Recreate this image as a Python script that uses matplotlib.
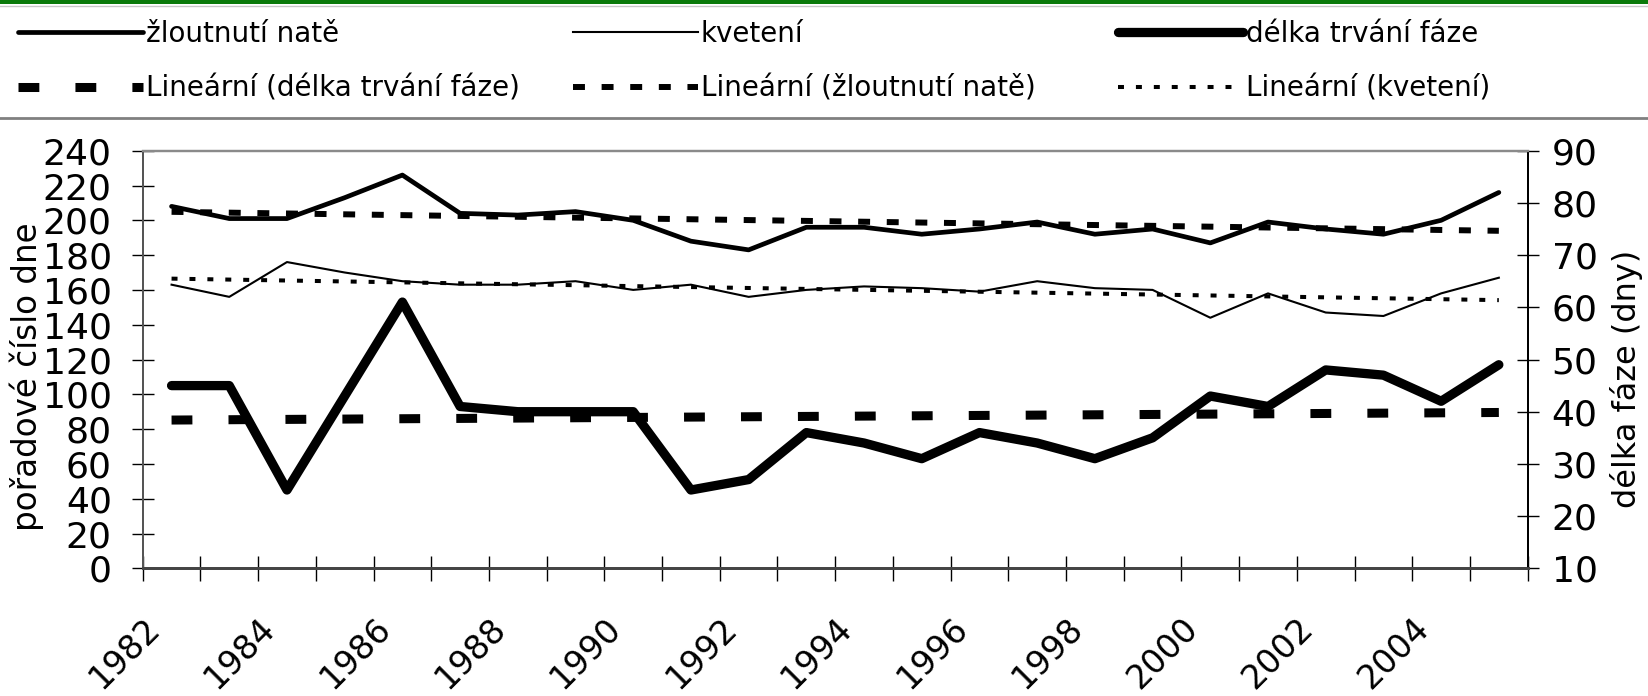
import numpy as np
import matplotlib
matplotlib.use("Agg")
import matplotlib.pyplot as plt
import matplotlib.transforms as mtransforms
from matplotlib.lines import Line2D
from matplotlib.patches import Rectangle

plt.rcParams["font.family"] = ["DejaVu Sans"]
plt.rcParams["lines.scale_dashes"] = False

years = list(range(1982, 2006))
zloutnuti = [208, 201, 201, 213, 226, 204, 203, 205, 200, 188, 183, 196,
             196, 192, 195, 199, 192, 195, 187, 199, 195, 192, 200, 216]
kveteni = [163, 156, 176, 170, 165, 163, 163, 165, 160, 163, 156, 160,
           162, 161, 159, 165, 161, 160, 144, 158, 147, 145, 158, 167]
delka = [45, 45, 25, 43, 61, 41, 40, 40, 40, 25, 27, 36,
         34, 31, 36, 34, 31, 35, 43, 41, 48, 47, 42, 49]

left_ticks = list(range(0, 241, 20))
right_ticks = list(range(10, 91, 10))

W, H = 1649, 696
fig = plt.figure(figsize=(W / 100, H / 100), dpi=100)
ax = fig.add_axes([142.7 / W, 1 - 568.3 / H, 1385 / W, 417.6 / H])
ax2 = ax.twinx()

x = np.arange(len(years))


def trend(vals):
    k, q = np.polyfit(x, vals, 1)
    return k * x + q


l_z, = ax.plot(x, zloutnuti, color="black", lw=3.4, solid_joinstyle="round",
               solid_capstyle="round", label="žloutnutí natě", zorder=3)
l_k, = ax.plot(x, kveteni, color="black", lw=1.5, solid_joinstyle="round",
               label="kvetení", zorder=3)
l_d, = ax2.plot(x, delka, color="black", lw=6.7, solid_joinstyle="round",
                solid_capstyle="round", label="délka trvání fáze", zorder=3)

t_d, = ax2.plot(x, trend(delka), color="black", lw=6.5, dashes=(15, 26),
                dash_capstyle="butt", label="Lineární (délka trvání fáze)")
t_z, = ax.plot(x, trend(zloutnuti), color="black", lw=4.3, dashes=(8.6, 12),
               dash_capstyle="butt", label="Lineární (žloutnutí natě)")
t_k, = ax.plot(x, trend(kveteni), color="black", lw=2.9, dashes=(4.3, 8.6),
               dash_capstyle="butt", label="Lineární (kvetení)")

ax.set_xlim(-0.5, len(years) - 0.5)
ax.set_ylim(0, 240)
ax2.set_ylim(10, 90)
ax.set_yticks(left_ticks)
ax2.set_yticks(right_ticks)

bounds = np.arange(len(years) + 1) - 0.5
labels = [str(years[k]) if k % 2 == 0 and k < len(years) else "" for k in range(len(bounds))]
ax.set_xticks(bounds)
ax.set_xticklabels(labels, rotation=45, ha="right", va="top",
                   rotation_mode="anchor", fontsize=24)
shift = mtransforms.ScaledTranslation(5 / 100, 0, fig.dpi_scale_trans)
for lab in ax.get_xticklabels():
    lab.set_transform(lab.get_transform() + shift)

ax.tick_params(axis="x", direction="inout", length=18, width=1, pad=22)
ax.tick_params(axis="y", direction="inout", length=16.5, width=1, pad=14,
               labelsize=26)
ax2.tick_params(axis="y", direction="inout", length=16.5, width=1, pad=9,
                labelsize=26)

for a in (ax, ax2):
    a.spines["top"].set_color("#8a8a8a")
    a.spines["top"].set_linewidth(1.6)
    a.spines["left"].set_color("#555555")
    a.spines["left"].set_linewidth(1.4)
    a.spines["bottom"].set_color("#444444")
    a.spines["bottom"].set_linewidth(2)
    a.spines["right"].set_color("black")
    a.spines["right"].set_linewidth(1.4)

fig.text(27 / W, 1 - 377 / H, "pořadové číslo dne", rotation=90,
         ha="center", va="center", fontsize=23.5)
fig.text(1627 / W, 1 - 379 / H, "délka fáze (dny)", rotation=90,
         ha="center", va="center", fontsize=23)

# legend: three columns, two rows
cols = [(18, [l_z, t_d]), (573, [l_k, t_z]), (1118, [l_d, t_k])]
for x0, handles in cols:
    fig.legend(handles=handles, loc="upper left",
               bbox_to_anchor=(x0 / W, 1 - 19.5 / H), frameon=False,
               fontsize=20, handlelength=4.5, handletextpad=0.1,
               borderpad=0, borderaxespad=0, labelspacing=0.97)

# frame lines of the original chart box
fig.add_artist(Rectangle((0, 1 - 4 / H), 1, 4 / H, transform=fig.transFigure,
                         color="#0b7a0b", lw=0))
fig.add_artist(Line2D([0, 1], [1 - 5.5 / H, 1 - 5.5 / H], transform=fig.transFigure,
                      color="#c8c8c8", lw=1))
fig.add_artist(Line2D([0, 1], [1 - 118 / H, 1 - 118 / H], transform=fig.transFigure,
                      color="#808080", lw=2))

fig.savefig("out.png", dpi=100)
